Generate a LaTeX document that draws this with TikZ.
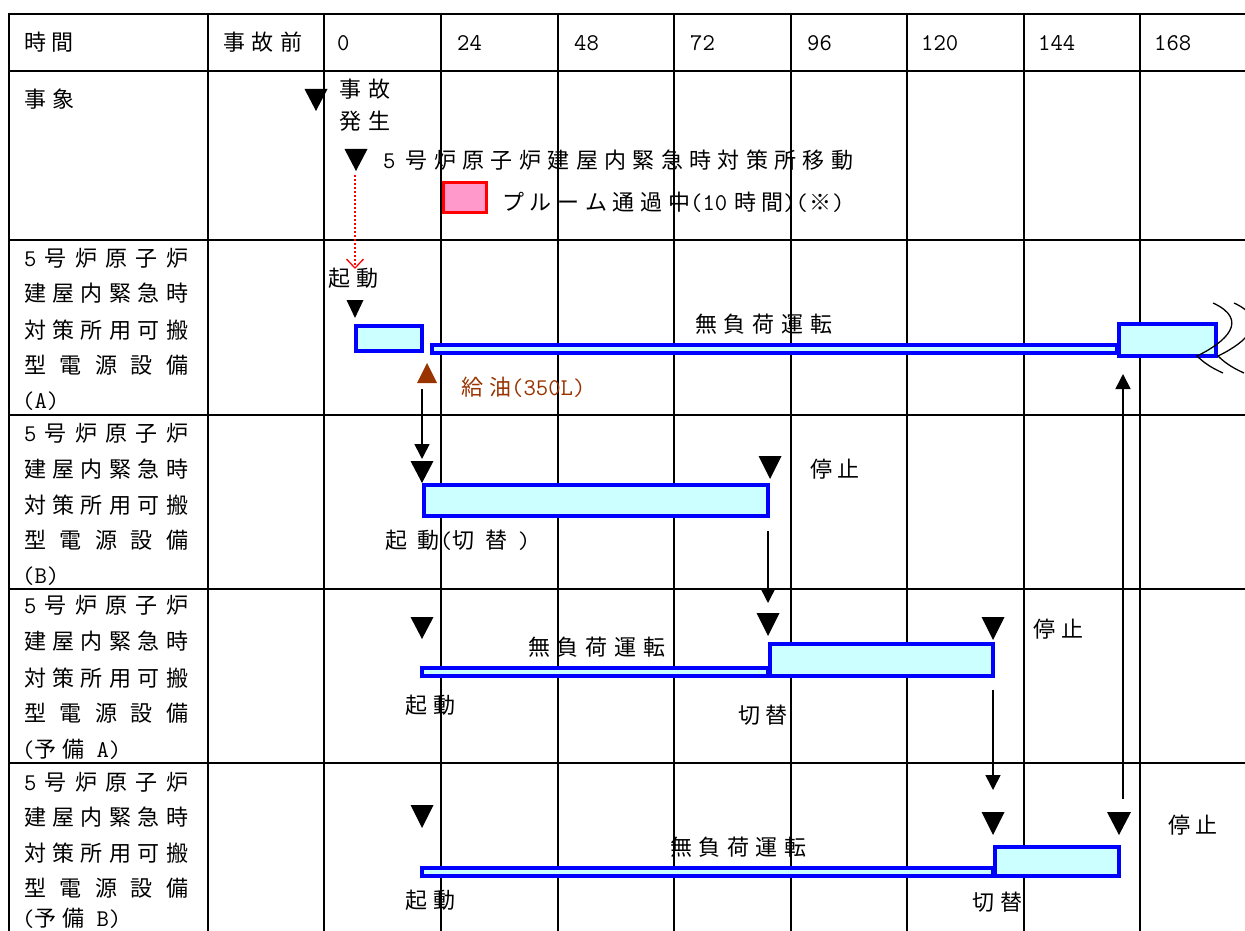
\documentclass[tikz,border=0pt]{standalone}
\usepackage{fontspec}
\setmainfont{Noto Sans CJK JP}
\newfontfamily\jpf{Noto Sans CJK JP}
\usetikzlibrary{arrows.meta}
\definecolor{cyanlight}{HTML}{CCFFFF}
\definecolor{pinkfill}{HTML}{FF99CC}
\definecolor{oilbrown}{HTML}{993300}
\newcommand\lt[1]{{\ttfamily\fontsize{24}{28}\selectfont #1}}
\makeatletter
\def\spr@end{\spr@end}
\def\spr@loop#1{\ifx\spr@end#1\else#1\hfil\expandafter\spr@loop\fi}
\newcommand\spr[2]{\hbox to #1pt{\spr@loop#2\spr@end\unskip}}
\makeatother
\newcommand\tdown[5]{\fill (#2-#4/2,#3) -- (#2+#4/2,#3) -- (#2,#3+#5) -- cycle; \coordinate (#1) at (#2,#3);}
\tikzset{
  gridline/.style={line width=2pt, black},
  tx/.style={anchor=base west, inner sep=0pt, font=\jpf\fontsize{22}{26}\selectfont},
  bbox/.style={draw=blue, line width=4pt, fill=cyanlight},
  arr/.style={line width=1.6pt, -{Triangle[length=15pt,width=15pt]}},
}
\newcommand\T[4]{\node[tx] (#1) at (#2,#3+8) {#4};}
\newcommand\lab[3]{\node[tx] (#1) at (24,#2+8) {\hbox to 164pt{#3}};}
\begin{document}
\begin{tikzpicture}[x=1pt,y=-1pt]
\useasboundingbox (0,0) rectangle (1245,931);
\fill[white] (0,0) rectangle (1245,931);
% grid
\foreach \gx in {9,208,324,441,557.5,674,790.5,907,1024,1140}
  \draw[gridline] (\gx,14) -- (\gx,935);
\foreach \gy in {14,71,240,415,589,763}
  \draw[gridline] (8,\gy) -- (1250,\gy);
% header
\T{h0}{24}{43}{\spr{49}{時間}}
\T{h1}{223}{43}{\spr{79}{事故前}}
\T{c0}{337}{43}{\lt{0}}
\T{c1}{457}{43}{\lt{24}}
\T{c2}{574}{43}{\lt{48}}
\T{c3}{690}{43}{\lt{72}}
\T{c4}{807}{43}{\lt{96}}
\T{c5}{921}{43}{\lt{120}}
\T{c6}{1038}{43}{\lt{144}}
\T{c7}{1154}{43}{\lt{168}}
% event row
\T{ev}{24}{100}{\spr{50}{事象}}
\tdown{t0}{316}{89}{23}{22}
\T{ev1}{339}{90}{\spr{51}{事故}}
\T{ev2}{339}{122}{\spr{51}{発生}}
\tdown{t1}{356}{149}{23}{22}
\T{ev3}{383}{160}{\spr{470}{{\lt{5}\hspace{4pt}}号炉原子炉建屋内緊急時対策所移動}}
\draw[red, line width=3pt, fill=pinkfill] (443.5,182.5) rectangle (486.5,212.5);
\T{ev4}{502}{202}{\spr{188}{プルーム通過中}}
\T{ev5}{690}{202}{\lt{(10}\hspace{7pt}時\hspace{5pt}間\lt{)(}\hspace{1pt}※\hspace{1pt}\lt{)}}
% left labels
\lab{la1}{258}{\lt{5}\hfil 号\hfil 炉\hfil 原\hfil 子\hfil 炉}
\lab{la2}{293}{建\hfil 屋\hfil 内\hfil 緊\hfil 急\hfil 時}
\lab{la3}{330}{対\hfil 策\hfil 所\hfil 用\hfil 可\hfil 搬}
\lab{la4}{365}{型\hfil 電\hfil 源\hfil 設\hfil 備}
\T{la5}{22}{400}{\lt{(A)}}
\lab{lb1}{433}{\lt{5}\hfil 号\hfil 炉\hfil 原\hfil 子\hfil 炉}
\lab{lb2}{469}{建\hfil 屋\hfil 内\hfil 緊\hfil 急\hfil 時}
\lab{lb3}{505}{対\hfil 策\hfil 所\hfil 用\hfil 可\hfil 搬}
\lab{lb4}{540}{型\hfil 電\hfil 源\hfil 設\hfil 備}
\T{lb5}{22}{575}{\lt{(B)}}
\lab{lc1}{605}{\lt{5}\hfil 号\hfil 炉\hfil 原\hfil 子\hfil 炉}
\lab{lc2}{641}{建\hfil 屋\hfil 内\hfil 緊\hfil 急\hfil 時}
\lab{lc3}{678}{対\hfil 策\hfil 所\hfil 用\hfil 可\hfil 搬}
\lab{lc4}{713}{型\hfil 電\hfil 源\hfil 設\hfil 備}
\T{lc5}{22}{749}{\lt{(}予\hspace{6pt}備\hspace{12pt}\lt{A)}}
\lab{ld1}{782}{\lt{5}\hfil 号\hfil 炉\hfil 原\hfil 子\hfil 炉}
\lab{ld2}{817}{建\hfil 屋\hfil 内\hfil 緊\hfil 急\hfil 時}
\lab{ld3}{853}{対\hfil 策\hfil 所\hfil 用\hfil 可\hfil 搬}
\lab{ld4}{888}{型\hfil 電\hfil 源\hfil 設\hfil 備}
\T{ld5}{22}{918}{\lt{(}予\hspace{6pt}備\hspace{12pt}\lt{B)}}
% row A
\coordinate (rs) at (355,175);
\coordinate (re) at (355,269);
\draw[red, line width=2pt, dotted, -{Straight Barb[length=9pt,width=17pt,line width=1.3pt]}] (rs) -- (re);
\T{a1}{328}{278}{\spr{50}{起動}}
\tdown{t2}{355}{300}{17}{18}
\draw[bbox] (356,326) rectangle (422,351);
\draw[bbox] (432,345) rectangle (1117,353);
\draw[bbox] (1119,324) rectangle (1216,356);
\T{a2}{695}{324}{\spr{137}{無負荷運転}}
\fill[oilbrown] (417,383) -- (437,383) -- (427,363) -- cycle;
\T{a3}{461}{387}{\color{oilbrown}給\hspace{6pt}油\lt{(350L)}}
\draw[line width=1.3pt] (1213,303) .. controls (1250,320) and (1226,342) .. (1197,356) .. controls (1205,364) and (1214,369) .. (1223,373);
\draw[line width=1.3pt] (1234,303) .. controls (1271,320) and (1247,342) .. (1218,356) .. controls (1226,364) and (1235,369) .. (1244,373);
% row B
\tdown{t3}{422}{461}{23}{22}
\coordinate (oil) at (422,389);
\draw[arr] (oil) -- ([yshift=2pt]t3);
\draw[bbox] (424,485) rectangle (768,516);
\tdown{t4}{770}{456}{23}{23}
\T{b1}{810}{469}{\spr{49}{停止}}
\T{b2}{385}{540}{\hbox to 145pt{起\hfil 動\lt{(}切\hfil 替\hfil\lt{)}}}
\coordinate (bs) at (768,531);
\tdown{t5}{768}{613}{23}{23}
\draw[arr] (bs) -- ([yshift=10pt]t5);
% row C
\tdown{t6}{422}{617}{23}{22}
\draw[bbox] (422,668) rectangle (768,676);
\draw[bbox] (770,644) rectangle (993,676);
\tdown{t7}{993}{617}{23}{23}
\T{c1t}{528}{647}{\spr{137}{無負荷運転}}
\T{c2t}{405}{705}{\spr{50}{起動}}
\T{c3t}{738}{715}{\spr{49}{切替}}
\T{c4t}{1033}{629}{\spr{50}{停止}}
\coordinate (cs) at (993,690);
\tdown{t9}{993}{812}{23}{23}
\draw[arr] (cs) -- ([yshift=22pt]t9);
% row D
\tdown{t8}{422}{805}{23}{23}
\draw[bbox] (422,868) rectangle (993,876);
\draw[bbox] (995,847) rectangle (1119,876);
\tdown{t10}{1119}{812}{24}{23}
\T{d1}{670}{847}{\spr{136}{無負荷運転}}
\T{d2}{405}{900}{\spr{50}{起動}}
\T{d3}{972}{902}{\spr{50}{切替}}
\T{d4}{1168}{825}{\spr{49}{停止}}
\coordinate (us) at (1123,799);
\coordinate (ue) at (1123,374);
\draw[arr] (us) -- (ue);
\end{tikzpicture}
\end{document}
